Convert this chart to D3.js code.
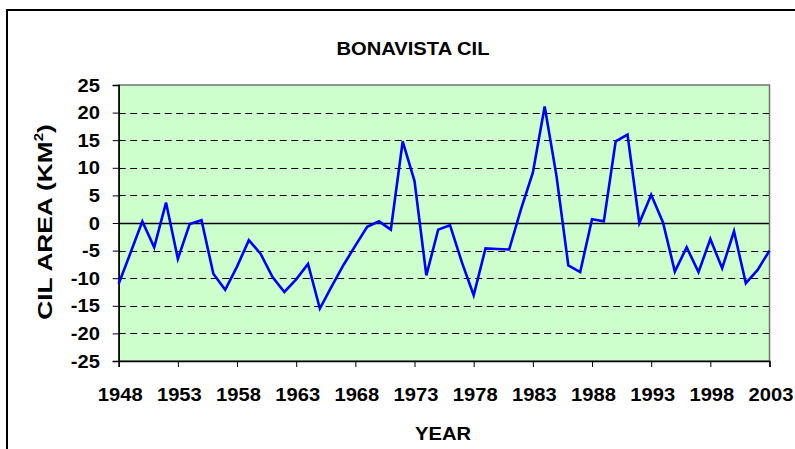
<!DOCTYPE html>
<html>
<head>
<meta charset="utf-8">
<script src="https://cdn.jsdelivr.net/npm/d3@7"></script>
<style>
  html, body { margin: 0; padding: 0; background: #fff; }
  svg { display: block; }
  text { font-family: Arial, "Liberation Sans", sans-serif; font-weight: bold; fill: #000; }
</style>
</head>
<body>
<script>
// Bonavista cold intermediate layer (CIL) area anomaly, 1948-2003
const years = d3.range(1948, 2004);
const cilArea = [
  -11.0, -5.4, 0.3, -4.4, 3.7, -6.5, -0.2, 0.5, -9.2, -12.1,
  -7.9, -3.1, -5.6, -9.8, -12.5, -10.2, -7.4, -15.5, -11.5, -7.6,
  -4.1, -0.7, 0.3, -1.2, 14.8, 7.6, -9.5, -1.2, -0.4, -7.1,
  -13.1, -4.6, -4.7, -4.8, 2.5, 9.1, 21.1, 8.5, -7.7, -8.9,
  0.7, 0.3, 14.8, 16.0, 0.0, 5.1, 0.1, -8.8, -4.4, -8.9,
  -2.9, -8.2, -1.5, -10.9, -8.5, -5.0
];
const yTicks = [25, 20, 15, 10, 5, 0, -5, -10, -15, -20, -25];
const xTicks = [1948, 1953, 1958, 1963, 1968, 1973, 1978, 1983, 1988, 1993, 1998, 2003];

const W = 795, H = 449;
const plot = { left: 118.7, right: 769.5, top: 85, bottom: 361 };
const sx = 1.12; // horizontal glyph stretch

const svg = d3.select("body").append("svg").attr("width", W).attr("height", H);

// chart frame
svg.append("rect")
  .attr("x", 7).attr("y", 10).attr("width", 840).attr("height", 480)
  .attr("fill", "#fff").attr("stroke", "#000").attr("stroke-width", 2);

const x = d3.scaleLinear().domain([1948, 2003]).range([plot.left, plot.right]);
const y = d3.scaleLinear().domain([-25, 25]).range([plot.bottom, plot.top]);

// plot background
svg.append("rect")
  .attr("x", plot.left).attr("y", plot.top)
  .attr("width", plot.right - plot.left).attr("height", plot.bottom - plot.top)
  .attr("fill", "#CCFFCC");

// horizontal gridlines (dashed), zero line solid
svg.append("g").selectAll("line")
  .data(yTicks.filter(v => v !== 25 && v !== -25))
  .join("line")
  .attr("x1", plot.left).attr("x2", plot.right)
  .attr("y1", d => Math.round(y(d)) + 0.5).attr("y2", d => Math.round(y(d)) + 0.5)
  .attr("stroke", "#000").attr("stroke-width", d => d === 0 ? 1.5 : 1)
  .attr("stroke-dasharray", d => d === 0 ? null : "7,4.5");

// plot border
svg.append("rect")
  .attr("x", plot.left).attr("y", plot.top)
  .attr("width", plot.right - plot.left).attr("height", plot.bottom - plot.top)
  .attr("fill", "none").attr("stroke", "#707070").attr("stroke-width", 1.5);

// y axis
const yAxis = svg.append("g")
  .attr("transform", `translate(${plot.left},0)`)
  .call(d3.axisLeft(y).tickValues(yTicks).tickSize(6).tickFormat(""));
yAxis.select(".domain").attr("stroke", "#000").attr("stroke-width", 1.5);
yAxis.selectAll(".tick line").attr("stroke", "#000").attr("stroke-width", 1);

svg.append("g").selectAll("text")
  .data(yTicks)
  .join("text")
  .attr("transform", d => `translate(100,${y(d) + 6.5}) scale(${sx},1)`)
  .attr("text-anchor", "end")
  .style("font-size", "18px")
  .text(d => d);

// x axis
const xAxis = svg.append("g")
  .attr("transform", `translate(0,${plot.bottom})`)
  .call(d3.axisBottom(x).tickValues(xTicks).tickSize(6).tickFormat(""));
xAxis.select(".domain").attr("stroke", "#000").attr("stroke-width", 1.5);
xAxis.selectAll(".tick line").attr("stroke", "#000").attr("stroke-width", 1);

svg.append("g").selectAll("text")
  .data(xTicks)
  .join("text")
  .attr("transform", d => `translate(${x(d) + 1.5},401) scale(${sx},1)`)
  .attr("text-anchor", "middle")
  .style("font-size", "18px")
  .text(d => d);

// data line
svg.append("path")
  .datum(years.map((yr, i) => [yr, cilArea[i]]))
  .attr("fill", "none")
  .attr("stroke", "#0000FF")
  .attr("stroke-width", 2.6)
  .attr("stroke-linejoin", "miter")
  .attr("d", d3.line().x(d => x(d[0])).y(d => y(d[1])));

// title
svg.append("text")
  .attr("transform", `translate(413,55) scale(${sx},1)`)
  .attr("text-anchor", "middle")
  .style("font-size", "18px")
  .text("BONAVISTA CIL");

// x axis title
svg.append("text")
  .attr("transform", `translate(443,440) scale(${sx},1)`)
  .attr("text-anchor", "middle")
  .style("font-size", "18px")
  .text("YEAR");

// y axis title
const yt = svg.append("text")
  .attr("transform", `translate(52,222) rotate(-90) scale(1.25,1)`)
  .attr("text-anchor", "middle")
  .style("font-size", "21px");
yt.append("tspan").text("CIL AREA (KM");
yt.append("tspan").attr("dy", -9).style("font-size", "12px").text("2");
yt.append("tspan").attr("dy", 9).text(")");
</script>
</body>
</html>
